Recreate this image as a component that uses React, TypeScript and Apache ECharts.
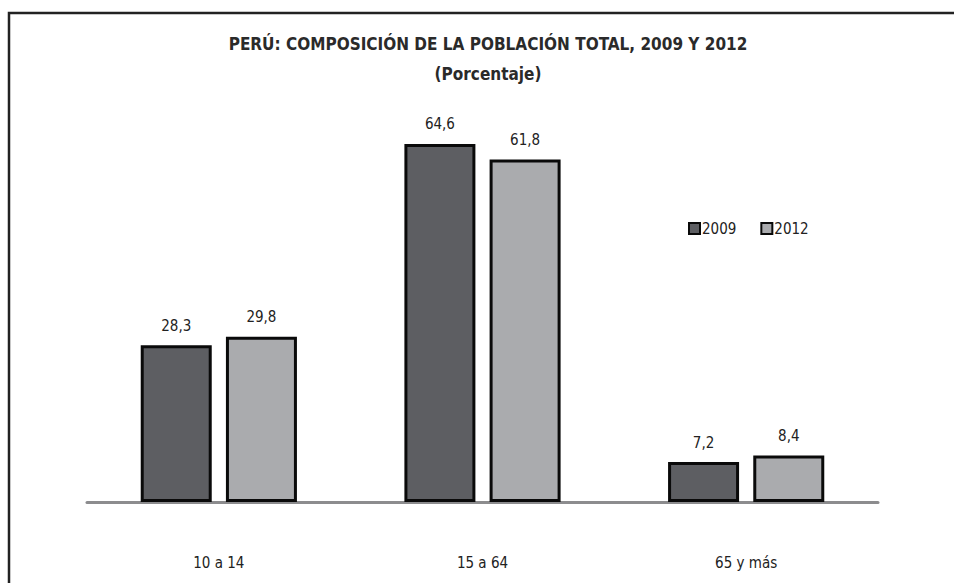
import React, { useEffect, useRef } from "react";
import * as echarts from "echarts";

const categories = ["10 a 14", "15 a 64", "65 y más"];
const series2009 = [28.3, 64.6, 7.2];
const series2012 = [29.8, 61.8, 8.4];
const seriesNames = ["2009", "2012"];

const FONT = "'Liberation Sans Narrow', 'DejaVu Sans Condensed', 'Roboto Condensed', Arial, sans-serif";

export default function App() {
  const ref = useRef<HTMLDivElement>(null);
  useEffect(() => {
    if (!ref.current) return;
    const chart = echarts.init(ref.current, null, { renderer: "svg" });
    const fmt = (p: any) => String(p.value).replace(".", ",");
    chart.setOption({
      animation: false,
      backgroundColor: "#ffffff",
      textStyle: { fontFamily: FONT },
      title: {
        text: "PERÚ: COMPOSICIÓN DE LA POBLACIÓN TOTAL, 2009 Y 2012\n(Porcentaje)",
        left: 483,
        top: 24,
        textAlign: "center",
        textStyle: {
          fontFamily: FONT,
          fontSize: 17,
          fontWeight: "bold",
          color: "#2a2a2a",
          lineHeight: 30,
        },
      },
      legend: {
        left: 683,
        top: 216,
        itemWidth: 11,
        itemHeight: 11,
        itemGap: 24,
        icon: "rect",
        textStyle: { fontFamily: FONT, fontSize: 15, color: "#222", padding: [0, 0, 0, -3] },
        data: seriesNames,
      },
      grid: { left: 87, right: 76, top: 114, bottom: 81 },
      xAxis: {
        type: "category",
        data: categories,
        axisLine: { lineStyle: { color: "#8c8c8e", width: 3 } },
        axisTick: { show: false },
        axisLabel: { margin: 53, fontFamily: FONT, fontSize: 15, color: "#222" },
      },
      yAxis: {
        type: "value",
        min: 0,
        max: 70,
        show: false,
        splitLine: { show: false },
      },
      graphic: [
        {
          type: "rect",
          shape: { x: 9, y: 13, width: 1000, height: 1000 },
          style: { fill: "none", stroke: "#222", lineWidth: 2.5 },
          silent: true,
        },
      ],
      series: [
        {
          name: seriesNames[0],
          type: "bar",
          data: series2009,
          barWidth: 71,
          barGap: "20%",
          itemStyle: { color: "#5d5e62", borderColor: "#0a0a0a", borderWidth: 3 },
          label: {
            show: true,
            position: "top",
            distance: 12,
            formatter: fmt,
            fontFamily: FONT,
            fontSize: 15,
            color: "#222",
          },
        },
        {
          name: seriesNames[1],
          type: "bar",
          data: series2012,
          barWidth: 71,
          barGap: "20%",
          itemStyle: { color: "#aaabae", borderColor: "#0a0a0a", borderWidth: 3 },
          label: {
            show: true,
            position: "top",
            distance: 12,
            formatter: fmt,
            fontFamily: FONT,
            fontSize: 15,
            color: "#222",
          },
        },
      ],
    });
    return () => chart.dispose();
  }, []);
  return (
    <div
      ref={ref}
      style={{ position: "absolute", left: 0, top: 0, width: 954, height: 583 }}
    />
  );
}
